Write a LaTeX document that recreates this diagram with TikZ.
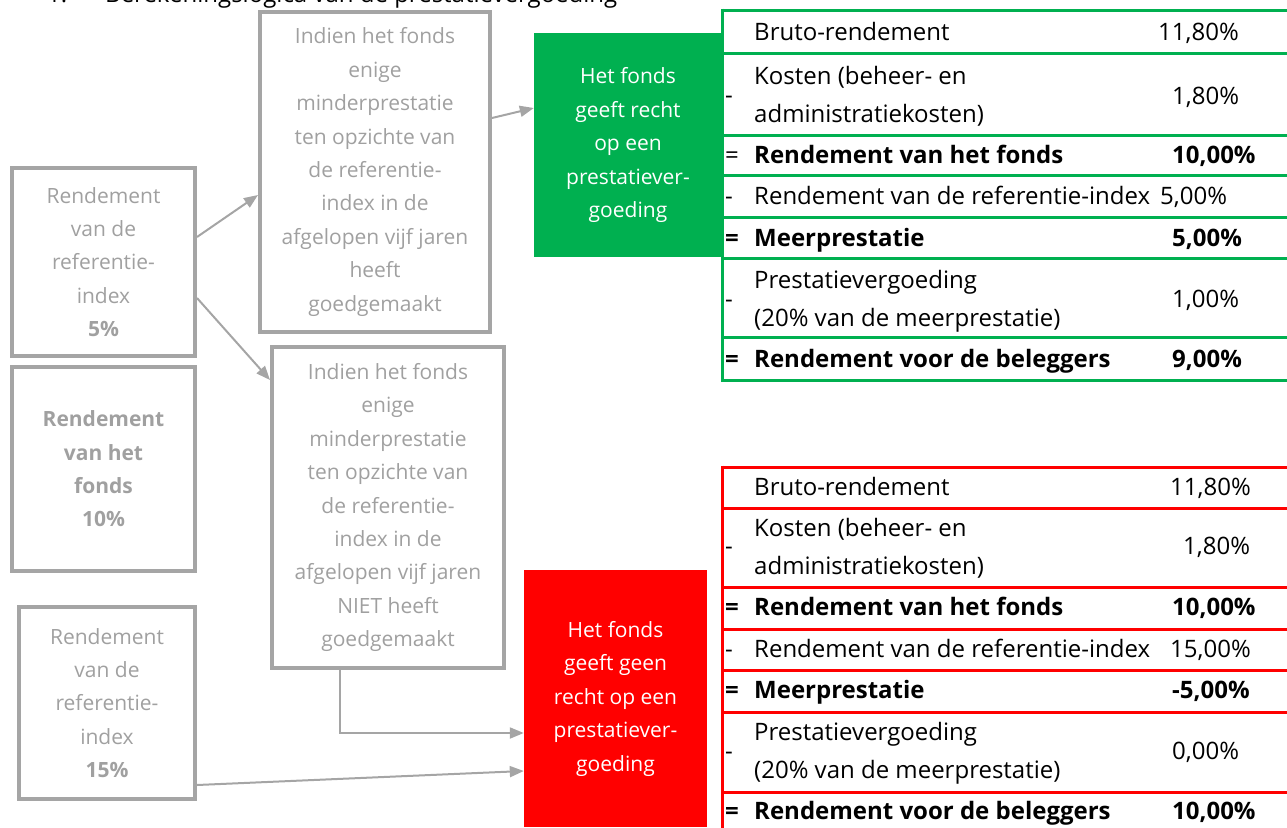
\documentclass[tikz,border=0pt]{standalone}
\usepackage{fontspec}
\setmainfont{Open Sans}
\usetikzlibrary{arrows.meta,positioning,calc}
\definecolor{boxgrey}{HTML}{A5A5A5}
\definecolor{txtgrey}{HTML}{A0A0A0}
\definecolor{feegreen}{HTML}{00B050}
\definecolor{feered}{HTML}{FF0000}
\tikzset{>={Triangle[length=14pt,width=11pt]}}
\tikzset{
  greybox/.style={draw=boxgrey, line width=4pt, text=txtgrey, align=center,
    font=\fontsize{21}{33.4}\selectfont},
  feebox/.style={text=white, align=center, font=\fontsize{21}{33.5}\selectfont},
  arr/.style={->, draw=boxgrey, line width=2pt},
  cell/.style={anchor=base west, inner sep=0pt, font=\fontsize{24}{38}\selectfont},
  cellii/.style={anchor=west, inner sep=0pt, align=left, font=\fontsize{24}{38}\selectfont},
  gline/.style={feegreen, line width=3pt},
  rline/.style={feered, line width=3pt},
}

\begin{document}
\begin{tikzpicture}[x=1pt, y=-1pt]
  \useasboundingbox (0,0) rectangle (1287,827);
  \clip (0,0) rectangle (1287,827);

  % title, cut at the top
  \node[cell] (ttlnum) at (47,2) {1.};
  \node[cell] (ttl) at (105,2) {Berekeningslogica van de prestatievergoeding};

  % left column
  \node[greybox, minimum width=183, minimum height=188] (ref5) at (103.5,262)
    {Rendement\\van de\\referentie-\\index\\\textbf{5\%}};
  \node[greybox, minimum width=183, minimum height=204, font=\bfseries\fontsize{21}{33.4}\selectfont] (fonds10) at (103.5,469)
    {Rendement\\van het\\fonds\\10\%};
  \node[greybox, minimum width=176, minimum height=192] (ref15) at (107,703)
    {Rendement\\van de\\referentie-\\index\\\textbf{15\%}};

  % middle column
  \node[greybox, minimum width=230, minimum height=320] (recov) at (375,172)
    {Indien het fonds\\enige\\minderprestatie\\ten opzichte van\\de referentie-\\index in de\\afgelopen vijf jaren\\heeft\\goedgemaakt};
  \node[greybox, minimum width=232, minimum height=321] (norecov) at (388,507.5)
    {Indien het fonds\\enige\\minderprestatie\\ten opzichte van\\de referentie-\\index in de\\afgelopen vijf jaren\\NIET heeft\\goedgemaakt};

  % outcome boxes
  \node[feebox, fill=feegreen, minimum width=188, minimum height=224] (feeyes) at (628,145)
    {Het fonds\\geeft recht\\op een\\prestatiever-\\goeding};
  \node[feebox, fill=feered, minimum width=183, minimum height=257] (feeno) at (615.5,698.5)
    {Het fonds\\geeft geen\\recht op een\\prestatiever-\\goeding};

  % connectors
  \draw[arr] ([yshift=25pt]ref5.east) -- ([yshift=-23pt]recov.west);
  \draw[arr] ([yshift=-36pt]ref5.east) -- ([yshift=127.5pt]norecov.west);
  \draw[arr] ([yshift=54pt]recov.east) -- ([yshift=37pt]feeyes.west);
  \draw[arr] ([xshift=-48pt]norecov.south) |- ([yshift=-34.5pt]feeno.west);
  \draw[arr] ([yshift=-82pt]ref15.east) -- ([yshift=-72.5pt]feeno.west);

  % green table
  \foreach \yy in {10,53,135,175,217,258,337,380}
    \draw[gline] (722,\yy) -- (1300,\yy);
  \draw[gline] (722,8.5) -- (722,381.5);

  \node[cell] (gl1) at (754,40.5) {Bruto-rendement};
  \node[cell] (gv1) at (1158,40.5) {11,80\%};
  \node[cell] (gs2) at (725,103) {-};
  \node[cellii] (gl2) at (754,96) {Kosten (beheer- en\\administratiekosten)};
  \node[cell] (gv2) at (1172,104.5) {1,80\%};
  \node[cell] (gs3) at (725,163.5) {=};
  \node[cell] (gl3) at (754,163.5) {\textbf{Rendement van het fonds}};
  \node[cell] (gv3) at (1172,163.5) {\textbf{10,00\%}};
  \node[cell] (gs4) at (725,204.5) {-};
  \node[cell] (gl4) at (754,204.5) {Rendement van de referentie-index};
  \node[cell] (gv4) at (1160,204.5) {5,00\%};
  \node[cell] (gs5) at (725,246.5) {\textbf{=}};
  \node[cell] (gl5) at (754,246.5) {\textbf{Meerprestatie}};
  \node[cell] (gv5) at (1172,246.5) {\textbf{5,00\%}};
  \node[cell] (gs6) at (725,307) {-};
  \node[cellii] (gl6) at (754,301) {Prestatievergoeding\\(20\% van de meerprestatie)};
  \node[cell] (gv6) at (1172,307.5) {1,00\%};
  \node[cell] (gs7) at (725,367.5) {\textbf{=}};
  \node[cell] (gl7) at (754,367.5) {\textbf{Rendement voor de beleggers}};
  \node[cell] (gv7) at (1172,367.5) {\textbf{9,00\%}};

  % red table
  \foreach \yy in {467,508,587,629,670,712,792}
    \draw[rline] (722,\yy) -- (1300,\yy);
  \draw[rline] (722,465.5) -- (722,830);

  \node[cell] (rl1) at (754,495.5) {Bruto-rendement};
  \node[cell] (rv1) at (1170,495.5) {11,80\%};
  \node[cell] (rs2) at (725,554) {-};
  \node[cellii] (rl2) at (754,548) {Kosten (beheer- en\\administratiekosten)};
  \node[cell] (rv2) at (1183,554.5) {1,80\%};
  \node[cell] (rs3) at (725,615.5) {\textbf{=}};
  \node[cell] (rl3) at (754,615.5) {\textbf{Rendement van het fonds}};
  \node[cell] (rv3) at (1172,615.5) {\textbf{10,00\%}};
  \node[cell] (rs4) at (725,657.5) {-};
  \node[cell] (rl4) at (754,657.5) {Rendement van de referentie-index};
  \node[cell] (rv4) at (1170,657.5) {15,00\%};
  \node[cell] (rs5) at (725,698.5) {\textbf{=}};
  \node[cell] (rl5) at (754,698.5) {\textbf{Meerprestatie}};
  \node[cell] (rv5) at (1172,698.5) {\textbf{-5,00\%}};
  \node[cell] (rs6) at (725,759) {-};
  \node[cellii] (rl6) at (754,753) {Prestatievergoeding\\(20\% van de meerprestatie)};
  \node[cell] (rv6) at (1172,759.5) {0,00\%};
  \node[cell] (rs7) at (725,819.5) {\textbf{=}};
  \node[cell] (rl7) at (754,819.5) {\textbf{Rendement voor de beleggers}};
  \node[cell] (rv7) at (1172,819.5) {\textbf{10,00\%}};
\end{tikzpicture}
\end{document}
